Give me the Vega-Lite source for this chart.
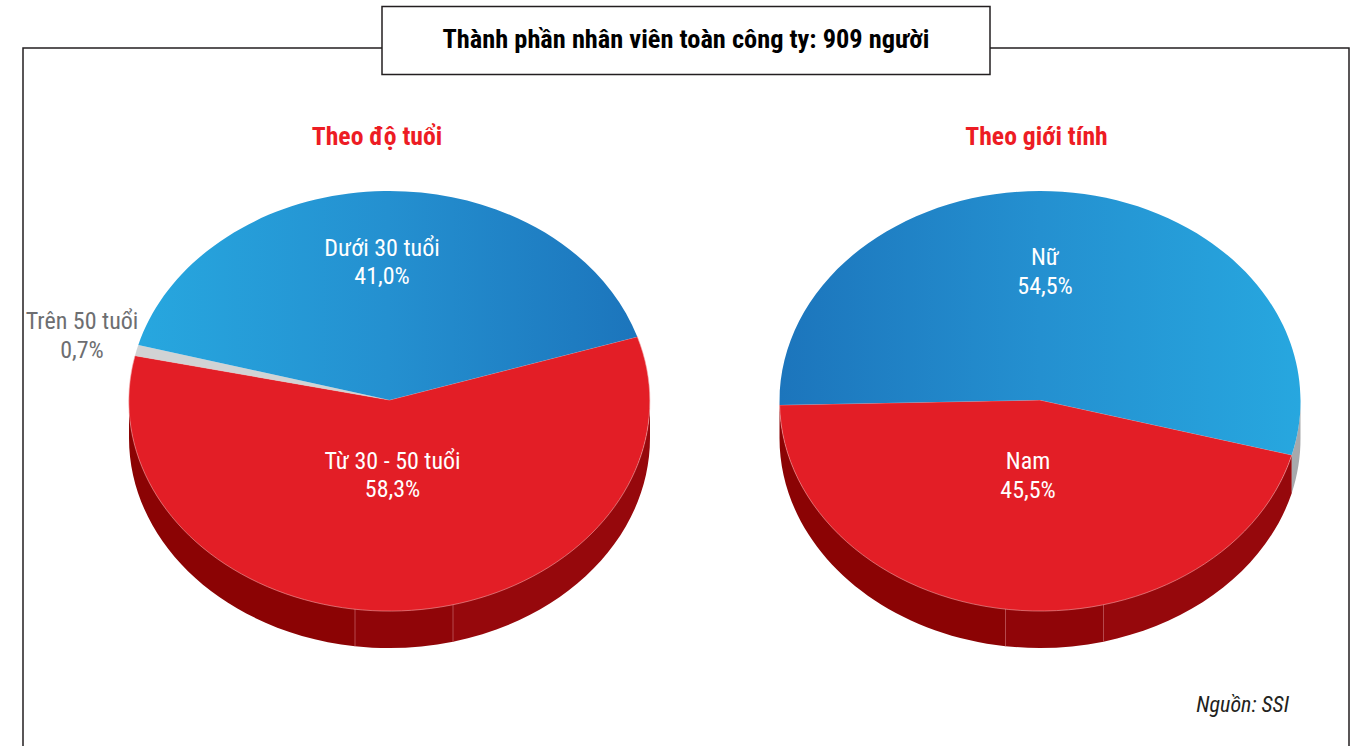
{"$schema":"https://vega.github.io/schema/vega-lite/v6.json","width":1326,"height":704,"autosize":{"type":"none"},"padding":{"left":23,"top":48,"right":11,"bottom":0},"background":"white","view":{"stroke":"#231f20","strokeWidth":1.5,"fill":null},
"title":{"text":"Thành phần nhân viên toàn công ty: 909 người","font":"Roboto Condensed","fontWeight":"bold","fontSize":26.4,"color":"#000000","anchor":"middle","frame":"group","baseline":"middle","offset":-63},
"layer":[
{"data":{"values":[{"element":"title box"}]},"mark":{"type":"point","filled":true,"opacity":1,"size":40000,"fill":"white","stroke":"#231f20","strokeWidth":1.5,"shape":"M-3.04,-3.935 L3.04,-3.935 L3.04,-3.255 L-3.04,-3.255 Z"}},
{"data":{"values":[{"source":"Nguồn: SSI"}]},"mark":{"type":"text","font":"Roboto Condensed","fontStyle":"italic","fontSize":22,"color":"#231f20","align":"right","dx":603,"dy":305},"encoding":{"text":{"field":"source"}}},
{"data":{"values":[
{"chart":"Theo độ tuổi","segment":"Dưới 30 tuổi","share":41.0,"label":"Dưới 30 tuổi\n41,0%"},
{"chart":"Theo độ tuổi","segment":"Từ 30 - 50 tuổi","share":58.3,"label":"Từ 30 - 50 tuổi\n58,3%"},
{"chart":"Theo độ tuổi","segment":"Trên 50 tuổi","share":0.7,"label":"Trên 50 tuổi\n0,7%"},
{"chart":"Theo giới tính","segment":"Nữ","share":54.5,"label":"Nữ\n54,5%"},
{"chart":"Theo giới tính","segment":"Nam","share":45.5,"label":"Nam\n45,5%"}
]},
"encoding":{"x":{"field":"chart","type":"nominal","scale":{"type":"point","padding":0,"domain":["Theo độ tuổi","Theo giới tính"],"range":[366.5,1017]},"axis":null}},
"layer":[
{"transform":[{"filter":"datum.segment==='Từ 30 - 50 tuổi'"}],"mark":{"type":"text","font":"Roboto Condensed","fontWeight":"bold","fontSize":25.7,"color":"#ed1c24","baseline":"middle","dx":-12.5,"dy":-263},"encoding":{"text":{"field":"chart"}}},
{"transform":[{"filter":"datum.segment==='Nam'"}],"mark":{"type":"text","font":"Roboto Condensed","fontWeight":"bold","fontSize":25.7,"color":"#ed1c24","baseline":"middle","dx":-3.5,"dy":-263},"encoding":{"text":{"field":"chart"}}},
{"transform":[{"filter":"datum.segment==='Từ 30 - 50 tuổi'"}],"mark":{"type":"point","filled":true,"opacity":1,"size":40000,"fill":"#96080c","shape":"M2.605,0 A2.605,2.1 0 0 1 0.635,2.0366 L0.635,2.4166 A2.605,2.1 0 0 0 2.605,0.38 Z"}},
{"transform":[{"filter":"datum.segment==='Nam'"}],"mark":{"type":"point","filled":true,"opacity":1,"size":40000,"fill":"#96080c","shape":"M2.518,0.55 A2.605,2.1 0 0 1 0.635,2.0366 L0.635,2.4166 A2.605,2.1 0 0 0 2.518,0.93 Z"}},
{"transform":[{"filter":"datum.segment==='Nữ'"}],"mark":{"type":"point","filled":true,"opacity":1,"size":40000,"fill":"#a7a9ac","shape":"M2.605,0 A2.605,2.1 0 0 1 2.518,0.55 L2.518,0.93 A2.605,2.1 0 0 0 2.605,0.38 Z"}},
{"transform":[{"filter":"datum.segment==='Từ 30 - 50 tuổi' || datum.segment==='Nam'"}],"mark":{"type":"point","filled":true,"opacity":1,"size":40000,"fill":"#900508","shape":"M0.635,2.0366 A2.605,2.1 0 0 1 -0.345,2.0815 L-0.345,2.4615 A2.605,2.1 0 0 0 0.635,2.4166 Z"}},
{"transform":[{"filter":"datum.segment==='Từ 30 - 50 tuổi' || datum.segment==='Nam'"}],"mark":{"type":"point","filled":true,"opacity":1,"size":40000,"fill":"#8b0304","shape":"M-0.345,2.0815 A2.605,2.1 0 0 1 -2.605,0 L-2.605,0.38 A2.605,2.1 0 0 0 -0.345,2.4615 Z"}},
{"transform":[{"filter":"datum.segment==='Từ 30 - 50 tuổi' || datum.segment==='Nam'"}],"mark":{"type":"point","filled":false,"opacity":1,"size":40000,"stroke":"#b5484c","strokeWidth":1,"shape":"M-0.345,2.0815 L-0.345,2.4615 M0.635,2.0366 L0.635,2.4166"}},
{"transform":[{"filter":"datum.segment==='Từ 30 - 50 tuổi'"}],"mark":{"type":"point","filled":true,"opacity":1,"size":40000,"fill":"#e31e26","stroke":"#f2a3a5","strokeWidth":0.6,"shape":"M0,0 L2.478,-0.633 A2.605,2.1 0 1 1 -2.545,-0.443 Z"}},
{"transform":[{"filter":"datum.segment==='Trên 50 tuổi'"}],"mark":{"type":"point","filled":true,"opacity":1,"size":40000,"fill":"#d1d3d4","shape":"M0,0 L-2.545,-0.443 A2.605,2.1 0 0 1 -2.512,-0.55 Z"}},
{"transform":[{"filter":"datum.segment==='Dưới 30 tuổi'"}],"mark":{"type":"point","filled":true,"opacity":1,"size":40000,"fill":{"gradient":"linear","x1":0,"y1":0,"x2":1,"y2":0,"stops":[{"offset":0,"color":"#27a7df"},{"offset":0.5,"color":"#2490d0"},{"offset":1,"color":"#1c75bc"}]},"shape":"M0,0 L-2.512,-0.55 A2.605,2.1 0 0 1 2.478,-0.633 Z"}},
{"transform":[{"filter":"datum.segment==='Nam'"}],"mark":{"type":"point","filled":true,"opacity":1,"size":40000,"fill":"#e31e26","stroke":"#f2a3a5","strokeWidth":0.6,"shape":"M0,0 L2.518,0.55 A2.605,2.1 0 0 1 -2.604,0.05 Z"}},
{"transform":[{"filter":"datum.segment==='Nữ'"}],"mark":{"type":"point","filled":true,"opacity":1,"size":40000,"fill":{"gradient":"linear","x1":0,"y1":0,"x2":1,"y2":0,"stops":[{"offset":0,"color":"#1c75bc"},{"offset":0.5,"color":"#2490d0"},{"offset":1,"color":"#27a7df"}]},"shape":"M0,0 L-2.604,0.05 A2.605,2.1 0 1 1 2.518,0.55 Z"}},
{"transform":[{"filter":"datum.segment==='Dưới 30 tuổi'"}],"mark":{"type":"text","font":"Roboto Condensed","fontSize":24,"color":"white","lineBreak":"\n","lineHeight":28,"dx":-7.5,"dy":-151},"encoding":{"text":{"field":"label"}}},
{"transform":[{"filter":"datum.segment==='Từ 30 - 50 tuổi'"}],"mark":{"type":"text","font":"Roboto Condensed","fontSize":24,"color":"white","lineBreak":"\n","lineHeight":28,"dx":3,"dy":62},"encoding":{"text":{"field":"label"}}},
{"transform":[{"filter":"datum.segment==='Trên 50 tuổi'"}],"mark":{"type":"text","font":"Roboto Condensed","fontSize":24,"color":"#6d6e71","lineBreak":"\n","lineHeight":29,"dx":-307.5,"dy":-78},"encoding":{"text":{"field":"label"}}},
{"transform":[{"filter":"datum.segment==='Nữ'"}],"mark":{"type":"text","font":"Roboto Condensed","fontSize":24,"color":"white","lineBreak":"\n","lineHeight":29,"dx":5,"dy":-142},"encoding":{"text":{"field":"label"}}},
{"transform":[{"filter":"datum.segment==='Nam'"}],"mark":{"type":"text","font":"Roboto Condensed","fontSize":24,"color":"white","lineBreak":"\n","lineHeight":29,"dx":-12,"dy":62},"encoding":{"text":{"field":"label"}}}
]}
]}
